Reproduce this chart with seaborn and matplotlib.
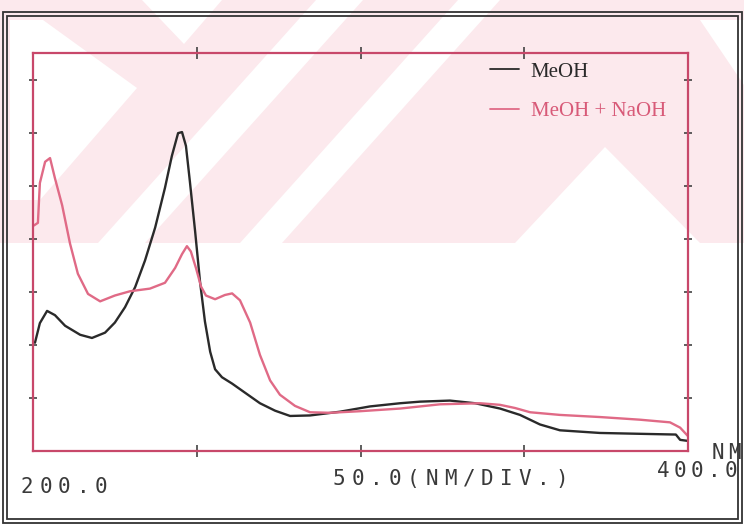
import matplotlib
matplotlib.use("Agg")
import matplotlib.pyplot as plt
from matplotlib.patches import Polygon, Rectangle
from matplotlib.lines import Line2D
import numpy as np
import pandas as pd
import seaborn as sns

# ---------------- data ----------------
wl_meoh = [200.6, 202.1, 204.3, 206.7, 209.8, 214.4, 218.0, 222.0, 225.0, 228.1,
           231.2, 234.2, 237.3, 240.3, 242.4, 244.3, 245.5, 246.7, 247.9, 249.5,
           251.0, 252.5, 254.1, 255.6, 257.7, 260.8, 264.7, 269.3, 273.9, 278.5,
           284.6, 293.7, 302.9, 312.1, 318.2, 327.3, 335.0, 342.6, 348.7, 354.8,
           360.9, 373.1, 388.4, 396.3, 397.6, 400.0]
abs_meoh = [2.04, 2.41, 2.64, 2.56, 2.36, 2.19, 2.13, 2.23, 2.42, 2.71,
            3.09, 3.59, 4.21, 4.96, 5.56, 5.99, 6.01, 5.75, 5.08, 4.14,
            3.19, 2.44, 1.87, 1.54, 1.39, 1.27, 1.10, 0.90, 0.76, 0.66,
            0.67, 0.74, 0.84, 0.90, 0.93, 0.95, 0.90, 0.80, 0.68, 0.50,
            0.39, 0.34, 0.32, 0.31, 0.21, 0.19]

wl_naoh = [200.3, 201.5, 202.1, 203.7, 205.2, 206.7, 208.9, 211.3, 213.7, 216.8, 220.5,
           225.0, 229.6, 235.7, 240.3, 243.4, 245.5, 247.0, 248.2, 249.8, 251.3,
           252.8, 255.6, 258.6, 260.8, 263.2, 266.3, 269.3, 272.4, 275.4, 280.0,
           284.6, 290.7, 299.9, 312.1, 324.3, 336.5, 342.6, 347.2, 351.8, 360.9,
           373.1, 385.3, 394.5, 397.6, 400.0]
abs_naoh = [4.25, 4.30, 5.05, 5.45, 5.52, 5.14, 4.63, 3.91, 3.34, 2.96, 2.82,
            2.93, 3.01, 3.06, 3.17, 3.45, 3.71, 3.86, 3.76, 3.44, 3.10,
            2.93, 2.86, 2.94, 2.97, 2.84, 2.42, 1.81, 1.33, 1.06, 0.85,
            0.73, 0.72, 0.75, 0.80, 0.88, 0.90, 0.87, 0.81, 0.73, 0.68,
            0.64, 0.59, 0.54, 0.44, 0.28]

series_names = ["MeOH", "MeOH + NaOH"]
x_min_label = "200.0"
x_max_label = "400.0"
x_div_label = "50.0(NM/DIV.)"
x_unit_label = "NM"

# ---------------- styling ----------------
BLACK = "#2a2a2a"
PINK = "#e06a86"
PINK_TEXT = "#d85a78"
FRAME = "#c8486a"
WM = "#fce9ed"
INK = "#3a3a3a"

sns.set_theme(style="white")
plt.rcParams["font.family"] = ["DejaVu Sans"]

W, H = 744, 527
fig = plt.figure(figsize=(W / 100, H / 100), dpi=100)
fig.patch.set_facecolor("white")


def P(px, py):
    return (px / W, 1 - py / H)


# faint watermark of the scan
fig.add_artist(Polygon([P(0, 0), P(744, 0), P(744, 243), P(0, 243)], closed=True,
                       transform=fig.transFigure, facecolor=WM, edgecolor="none", zorder=-10))
white_shapes = [
    [(10, 20), (43, 20), (137, 88), (40, 200), (10, 200)],
    [(142, 0), (222, 0), (184, 44)],
    [(98, 243), (145, 243), (363, 0), (316, 0)],
    [(240, 243), (282, 243), (500, 0), (458, 0)],
    [(515, 243), (605, 147), (700, 243)],
    [(700, 20), (744, 20), (744, 85)],
]
for shp in white_shapes:
    fig.add_artist(Polygon([P(*p) for p in shp], closed=True, transform=fig.transFigure,
                           facecolor="white", edgecolor="none", zorder=-9))

# double outer border
for (l, t, r, b) in [(3, 12, 742, 523), (7, 16, 738, 519)]:
    fig.add_artist(Rectangle(P(l, b), (r - l) / W, (b - t) / H, transform=fig.transFigure,
                             fill=False, edgecolor="#333333", linewidth=1.3, zorder=5))

ax = fig.add_axes([33 / W, 1 - 451 / H, 655 / W, 398 / H])
ax.set_facecolor("none")

df = pd.concat([
    pd.DataFrame({"wl": wl_meoh, "abs": abs_meoh, "series": series_names[0]}),
    pd.DataFrame({"wl": wl_naoh, "abs": abs_naoh, "series": series_names[1]}),
])
sns.lineplot(data=df, x="wl", y="abs", hue="series", palette=[BLACK, PINK],
             estimator=None, sort=False, linewidth=1.7, legend=False, ax=ax)

ax.set_xlim(200, 400)
ax.set_ylim(0, 7.5)
ax.set_xticks([250, 300, 350])
ax.set_yticks([1, 2, 3, 4, 5, 6, 7])
ax.set_xlabel("")
ax.set_ylabel("")
ax.tick_params(axis="x", direction="inout", length=8, width=1.1, color="#333333",
               top=True, bottom=True, labelbottom=False, labeltop=False)
ax.tick_params(axis="y", direction="inout", length=6, width=1.1, color="#333333",
               left=True, right=True, labelleft=False, labelright=False)
for s in ax.spines.values():
    s.set_color(FRAME)
    s.set_linewidth(1.6)

handles = [Line2D([], [], color=BLACK, lw=1.3), Line2D([], [], color=PINK, lw=1.3)]
leg = ax.legend(handles, series_names, loc="upper left", bbox_to_anchor=P(490, 62),
                bbox_transform=fig.transFigure, frameon=False, borderpad=0, borderaxespad=0,
                handlelength=1.4, handletextpad=0.55, labelspacing=0.95,
                prop={"family": "Liberation Serif", "size": 15})
leg.get_texts()[0].set_color(BLACK)
leg.get_texts()[1].set_color(PINK_TEXT)


def mono_text(s, x0, yc, adv=18.5):
    # printer-style spaced monospace text
    for i, ch in enumerate(s):
        fig.text(*P(x0 + i * adv, yc), ch, va="center", ha="left",
                 family="DejaVu Sans Mono", size=15, color=INK)


mono_text(x_min_label, 21, 487)
mono_text(x_div_label, 333, 479)
mono_text(x_max_label, 657, 471, adv=17)
mono_text(x_unit_label, 712, 453, adv=16)

fig.savefig("out.png", dpi=100)
